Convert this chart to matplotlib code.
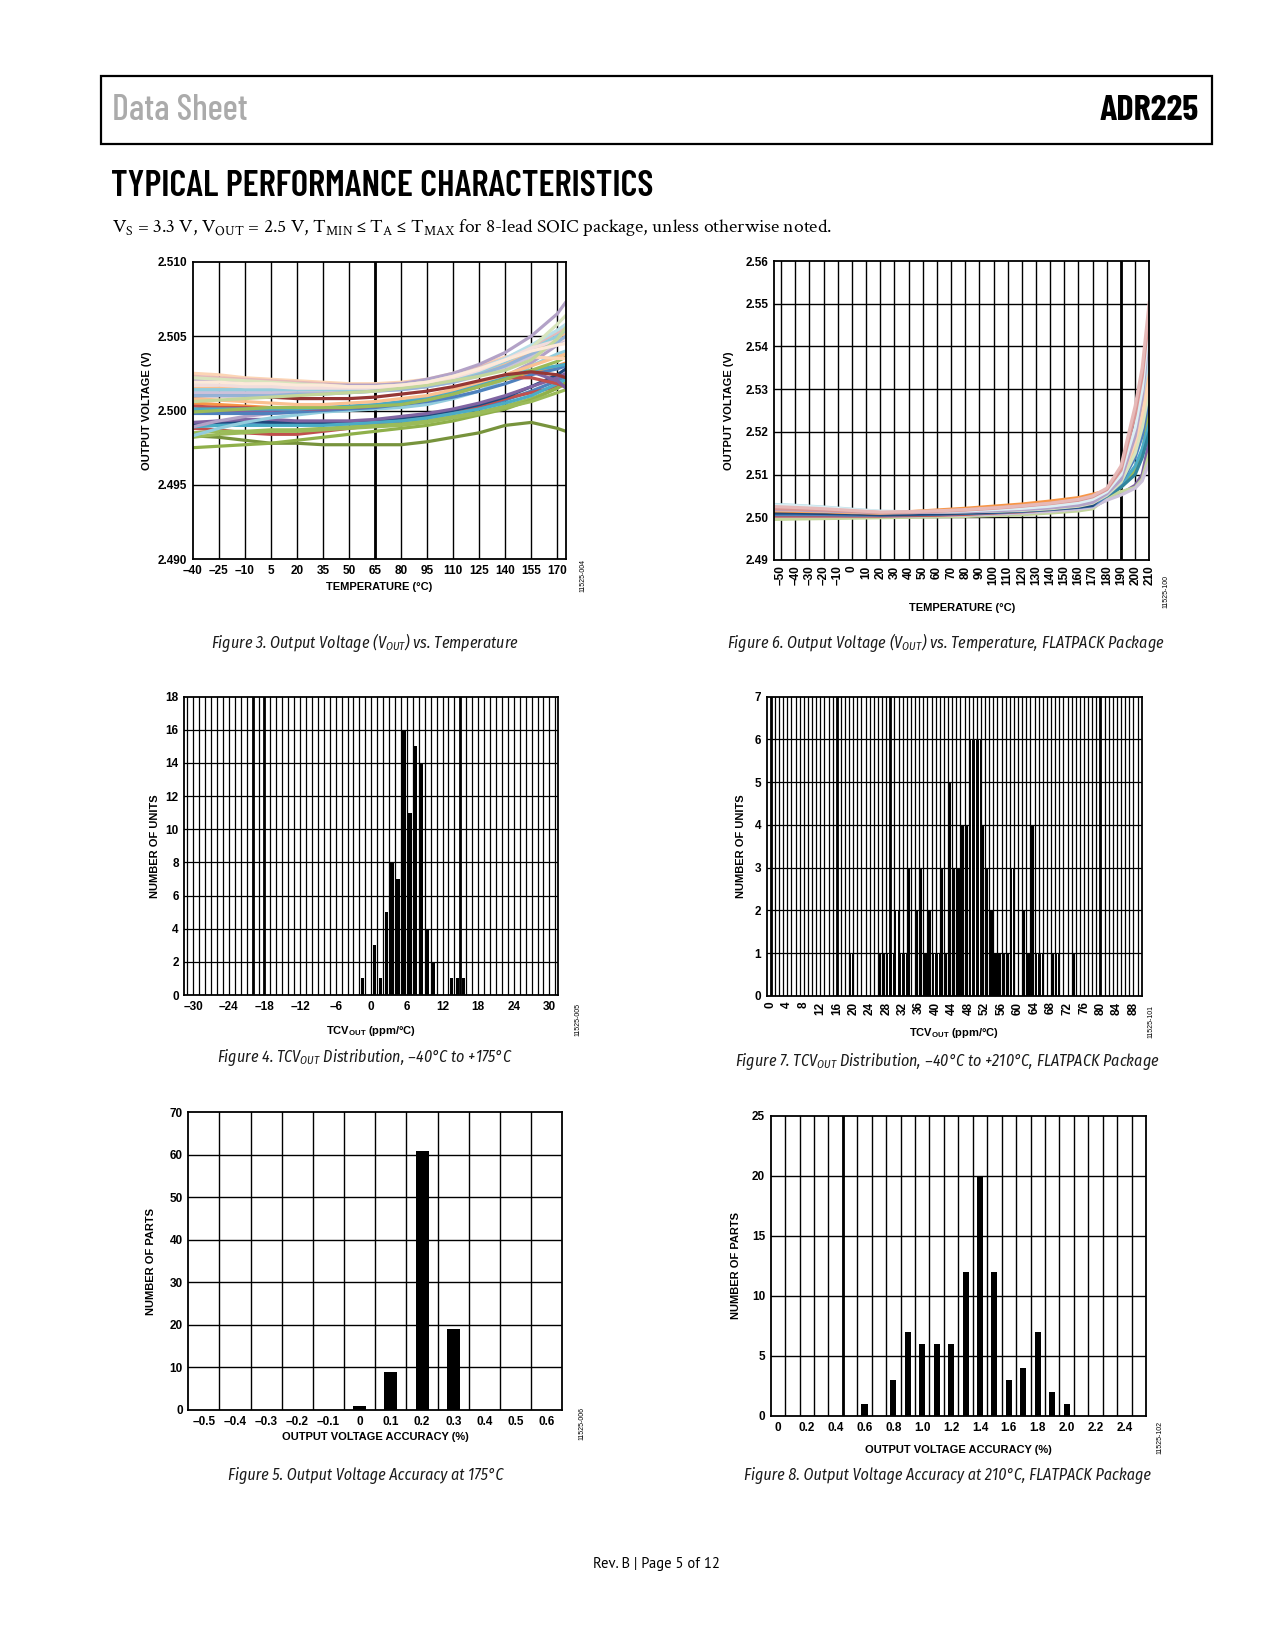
import matplotlib
matplotlib.use('Agg')
import matplotlib.pyplot as plt
from matplotlib.patches import Rectangle

W, H = 1275, 1650

plt.rcParams['font.family'] = ['Liberation Sans', 'DejaVu Sans']
plt.rcParams['axes.unicode_minus'] = False

# ---------------- data ----------------
# Figure 3: output voltage vs temperature (SOIC)
temp3 = [-40, -25, -10, 5, 20, 35, 50, 65, 80, 95, 110, 125, 140, 155, 170, 175]
vout3_low = [
    [2.4990, 2.4991, 2.4991, 2.4991, 2.4991, 2.4991, 2.4991, 2.4991, 2.4993, 2.4995, 2.4998, 2.5002, 2.5007, 2.5013, 2.5020, 2.5023],
    [2.4988, 2.4987, 2.4985, 2.4984, 2.4984, 2.4986, 2.4988, 2.4990, 2.4993, 2.4996, 2.4999, 2.5003, 2.5008, 2.5012, 2.5016, 2.5017],
    [2.4985, 2.4986, 2.4986, 2.4987, 2.4987, 2.4988, 2.4989, 2.4990, 2.4991, 2.4993, 2.4996, 2.4999, 2.5003, 2.5008, 2.5015, 2.5018],
    [2.4983, 2.4982, 2.4980, 2.4978, 2.4978, 2.4977, 2.4977, 2.4977, 2.4977, 2.4979, 2.4982, 2.4985, 2.4990, 2.4992, 2.4988, 2.4986],
    [2.4975, 2.4976, 2.4977, 2.4978, 2.4980, 2.4982, 2.4984, 2.4986, 2.4988, 2.4990, 2.4993, 2.4997, 2.5001, 2.5007, 2.5015, 2.5019],
    [2.4991, 2.4992, 2.4993, 2.4992, 2.4992, 2.4992, 2.4992, 2.4993, 2.4995, 2.4997, 2.5000, 2.5004, 2.5009, 2.5016, 2.5024, 2.5028],
    [2.4989, 2.4990, 2.4990, 2.4990, 2.4990, 2.4990, 2.4991, 2.4992, 2.4993, 2.4995, 2.4998, 2.5001, 2.5005, 2.5010, 2.5018, 2.5021],
    [2.4992, 2.4993, 2.4994, 2.4994, 2.4993, 2.4993, 2.4993, 2.4994, 2.4996, 2.4998, 2.5001, 2.5005, 2.5010, 2.5016, 2.5022, 2.5025],
    [2.4982, 2.4984, 2.4985, 2.4986, 2.4986, 2.4987, 2.4988, 2.4989, 2.4990, 2.4992, 2.4995, 2.4998, 2.5002, 2.5006, 2.5012, 2.5014],
]
vout3_mid = [
    [2.4989, 2.4993, 2.4996, 2.4998, 2.4999, 2.5000, 2.5001, 2.5002, 2.5004, 2.5007, 2.5011, 2.5016, 2.5023, 2.5032, 2.5044, 2.5049],
    [2.4983, 2.4988, 2.4992, 2.4995, 2.4997, 2.4999, 2.5000, 2.5001, 2.5002, 2.5004, 2.5008, 2.5013, 2.5021, 2.5030, 2.5038, 2.5040],
    [2.5005, 2.5004, 2.5003, 2.5002, 2.5002, 2.5002, 2.5002, 2.5003, 2.5005, 2.5008, 2.5012, 2.5016, 2.5021, 2.5025, 2.5030, 2.5032],
    [2.4998, 2.4998, 2.4998, 2.4998, 2.4999, 2.5000, 2.5001, 2.5002, 2.5004, 2.5006, 2.5009, 2.5013, 2.5018, 2.5024, 2.5028, 2.5030],
    [2.5003, 2.5002, 2.5002, 2.5001, 2.5001, 2.5001, 2.5002, 2.5003, 2.5005, 2.5008, 2.5012, 2.5017, 2.5022, 2.5022, 2.5018, 2.5016],
    [2.5000, 2.5000, 2.5000, 2.5000, 2.5001, 2.5001, 2.5002, 2.5003, 2.5005, 2.5008, 2.5012, 2.5017, 2.5023, 2.5026, 2.5020, 2.5015],
    [2.5001, 2.5001, 2.5001, 2.5001, 2.5001, 2.5002, 2.5003, 2.5004, 2.5006, 2.5009, 2.5013, 2.5018, 2.5023, 2.5027, 2.5030, 2.5031],
    [2.4999, 2.5000, 2.5001, 2.5002, 2.5002, 2.5002, 2.5002, 2.5003, 2.5004, 2.5007, 2.5011, 2.5016, 2.5021, 2.5027, 2.5033, 2.5036],
    [2.5008, 2.5007, 2.5006, 2.5005, 2.5004, 2.5004, 2.5005, 2.5006, 2.5008, 2.5010, 2.5014, 2.5019, 2.5024, 2.5030, 2.5036, 2.5038],
    [2.5010, 2.5010, 2.5010, 2.5009, 2.5008, 2.5008, 2.5008, 2.5009, 2.5011, 2.5013, 2.5016, 2.5020, 2.5024, 2.5026, 2.5024, 2.5022],
]
vout3_high = [
    [2.5025, 2.5024, 2.5022, 2.5021, 2.5020, 2.5019, 2.5018, 2.5018, 2.5019, 2.5021, 2.5025, 2.5030, 2.5036, 2.5036, 2.5035, 2.5035],
    [2.5023, 2.5022, 2.5021, 2.5020, 2.5019, 2.5018, 2.5017, 2.5017, 2.5018, 2.5020, 2.5024, 2.5029, 2.5035, 2.5043, 2.5052, 2.5056],
    [2.5020, 2.5020, 2.5019, 2.5018, 2.5018, 2.5017, 2.5017, 2.5017, 2.5018, 2.5021, 2.5025, 2.5031, 2.5039, 2.5050, 2.5065, 2.5073],
    [2.5018, 2.5017, 2.5017, 2.5016, 2.5016, 2.5016, 2.5016, 2.5016, 2.5017, 2.5019, 2.5023, 2.5028, 2.5035, 2.5044, 2.5054, 2.5058],
    [2.5022, 2.5021, 2.5020, 2.5019, 2.5018, 2.5017, 2.5016, 2.5016, 2.5017, 2.5019, 2.5022, 2.5027, 2.5033, 2.5042, 2.5058, 2.5064],
    [2.5015, 2.5015, 2.5015, 2.5014, 2.5014, 2.5014, 2.5014, 2.5014, 2.5015, 2.5017, 2.5020, 2.5025, 2.5031, 2.5039, 2.5049, 2.5052],
    [2.5012, 2.5012, 2.5012, 2.5012, 2.5012, 2.5012, 2.5012, 2.5013, 2.5014, 2.5016, 2.5019, 2.5023, 2.5029, 2.5036, 2.5045, 2.5048],
    [2.5014, 2.5014, 2.5014, 2.5014, 2.5014, 2.5014, 2.5014, 2.5014, 2.5015, 2.5017, 2.5021, 2.5026, 2.5033, 2.5041, 2.5050, 2.5054],
    [2.5017, 2.5017, 2.5016, 2.5016, 2.5015, 2.5015, 2.5015, 2.5015, 2.5016, 2.5018, 2.5022, 2.5027, 2.5034, 2.5042, 2.5047, 2.5048],
    [2.5010, 2.5010, 2.5010, 2.5010, 2.5011, 2.5011, 2.5012, 2.5013, 2.5014, 2.5016, 2.5019, 2.5024, 2.5030, 2.5038, 2.5046, 2.5050],
    [2.5006, 2.5007, 2.5008, 2.5009, 2.5010, 2.5011, 2.5012, 2.5013, 2.5015, 2.5017, 2.5020, 2.5023, 2.5027, 2.5034, 2.5048, 2.5056],
    [2.5019, 2.5019, 2.5018, 2.5018, 2.5017, 2.5017, 2.5016, 2.5016, 2.5017, 2.5019, 2.5023, 2.5028, 2.5034, 2.5040, 2.5044, 2.5045],
]
colors3_low = ['#4F81BD', '#C0504D', '#9BBB59', '#77933C', '#8FB04A', '#1F497D', '#4BACC6', '#8064A2', '#9BBB59']
colors3_mid = ['#B3A2C7', '#93CDDD', '#F79646', '#4F81BD', '#C0504D', '#8064A2', '#4BACC6', '#9BBB59', '#FAC090', '#953735']
colors3_high = ['#FCD5B5', '#E6B9B8', '#B3A2C7', '#B7DEE8', '#D7E4BD', '#FAC090', '#CCC1DA', '#93CDDD',
                '#F2DCDB', '#95B3D7', '#C3D69B', '#FDE9D9']

# Figure 6: output voltage vs temperature (FLATPACK)
temp6 = [-55, -40, -20, 0, 20, 40, 60, 80, 100, 120, 140, 160, 170, 180, 190, 200, 205, 210]
vout6 = [
    [2.5000, 2.5000, 2.5000, 2.5001, 2.5001, 2.5002, 2.5003, 2.5004, 2.5006, 2.5009, 2.5013, 2.5018, 2.5023, 2.5042, 2.5055, 2.5075, 2.5100, 2.5180],
    [2.4995, 2.4996, 2.4997, 2.4998, 2.4999, 2.5000, 2.5001, 2.5002, 2.5004, 2.5006, 2.5010, 2.5015, 2.5020, 2.5045, 2.5060, 2.5070, 2.5090, 2.5150],
    [2.5002, 2.5002, 2.5002, 2.5002, 2.5002, 2.5003, 2.5004, 2.5005, 2.5007, 2.5010, 2.5014, 2.5019, 2.5024, 2.5040, 2.5052, 2.5068, 2.5085, 2.5130],
    [2.5005, 2.5005, 2.5005, 2.5004, 2.5004, 2.5005, 2.5006, 2.5008, 2.5011, 2.5015, 2.5021, 2.5029, 2.5036, 2.5050, 2.5070, 2.5110, 2.5150, 2.5250],
    [2.5008, 2.5008, 2.5007, 2.5006, 2.5005, 2.5006, 2.5007, 2.5009, 2.5012, 2.5016, 2.5021, 2.5028, 2.5034, 2.5052, 2.5075, 2.5120, 2.5160, 2.5220],
    [2.5012, 2.5011, 2.5010, 2.5009, 2.5008, 2.5009, 2.5010, 2.5012, 2.5014, 2.5018, 2.5023, 2.5030, 2.5037, 2.5050, 2.5070, 2.5100, 2.5140, 2.5200],
    [2.5003, 2.5003, 2.5003, 2.5003, 2.5003, 2.5004, 2.5005, 2.5007, 2.5010, 2.5013, 2.5018, 2.5024, 2.5030, 2.5052, 2.5085, 2.5160, 2.5220, 2.5300],
    [2.5006, 2.5006, 2.5006, 2.5005, 2.5005, 2.5006, 2.5007, 2.5009, 2.5011, 2.5014, 2.5018, 2.5023, 2.5027, 2.5050, 2.5080, 2.5140, 2.5190, 2.5280],
    [2.5010, 2.5010, 2.5009, 2.5008, 2.5006, 2.5007, 2.5008, 2.5010, 2.5012, 2.5015, 2.5019, 2.5024, 2.5028, 2.5060, 2.5105, 2.5220, 2.5300, 2.5420],
    [2.5015, 2.5014, 2.5013, 2.5011, 2.5010, 2.5013, 2.5017, 2.5021, 2.5026, 2.5031, 2.5038, 2.5046, 2.5054, 2.5062, 2.5090, 2.5180, 2.5260, 2.5400],
    [2.5017, 2.5016, 2.5014, 2.5012, 2.5010, 2.5011, 2.5012, 2.5014, 2.5017, 2.5021, 2.5026, 2.5033, 2.5040, 2.5057, 2.5085, 2.5165, 2.5230, 2.5350],
    [2.5026, 2.5024, 2.5021, 2.5017, 2.5013, 2.5012, 2.5012, 2.5013, 2.5014, 2.5016, 2.5020, 2.5026, 2.5033, 2.5052, 2.5082, 2.5150, 2.5210, 2.5300],
    [2.5022, 2.5021, 2.5019, 2.5016, 2.5013, 2.5013, 2.5013, 2.5015, 2.5017, 2.5020, 2.5025, 2.5032, 2.5040, 2.5058, 2.5090, 2.5175, 2.5240, 2.5320],
    [2.5030, 2.5028, 2.5024, 2.5019, 2.5014, 2.5013, 2.5013, 2.5014, 2.5016, 2.5019, 2.5024, 2.5031, 2.5038, 2.5058, 2.5095, 2.5200, 2.5280, 2.5380],
    [2.5018, 2.5017, 2.5015, 2.5013, 2.5011, 2.5011, 2.5012, 2.5013, 2.5015, 2.5018, 2.5022, 2.5028, 2.5035, 2.5055, 2.5088, 2.5190, 2.5280, 2.5440],
    [2.5028, 2.5027, 2.5023, 2.5018, 2.5014, 2.5013, 2.5014, 2.5015, 2.5018, 2.5021, 2.5026, 2.5034, 2.5042, 2.5060, 2.5100, 2.5210, 2.5300, 2.5460],
    [2.5020, 2.5019, 2.5017, 2.5014, 2.5011, 2.5012, 2.5014, 2.5017, 2.5021, 2.5026, 2.5032, 2.5040, 2.5048, 2.5065, 2.5110, 2.5240, 2.5330, 2.5480],
    [2.5025, 2.5023, 2.5020, 2.5016, 2.5012, 2.5013, 2.5015, 2.5018, 2.5022, 2.5027, 2.5033, 2.5042, 2.5050, 2.5068, 2.5120, 2.5260, 2.5350, 2.5505],
]
colors6 = ['#8064A2', '#C3D69B', '#CCC1DA', '#9BBB59', '#4BACC6', '#31859C', '#C0504D', '#4F81BD', '#1F497D',
           '#F79646', '#FAC090', '#D7E4BD', '#FCD5B5', '#B7DEE8', '#B3A2C7', '#DBEEF4', '#D99694', '#E6B9B8']

# Figure 4: TCVout distribution, -40C to +175C (bin centres, ppm/C)
tc4_bins = [-1.5, 0.5, 1.5, 2.5, 3.5, 4.5, 5.5, 6.5, 7.5, 8.5, 9.5, 10.5, 13.5, 14.5, 15.5]
tc4_units = [1, 3, 1, 5, 8, 7, 16, 11, 15, 14, 4, 2, 1, 1, 1]

# Figure 7: TCVout distribution, FLATPACK (solid bars and hairline bars)
tc7_bins = [26.5, 27.5, 33.5, 35.5, 36.5, 37.5, 38.5, 41.5, 42.5, 43.5, 44.5, 45.5, 46.5, 47.5,
            51.5, 52.5, 53.5, 54.5, 55.5, 56.5, 57.5, 61.5, 62.5, 63.5, 68.5, 73.5]
tc7_units = [1, 1, 3, 2, 3, 1, 2, 3, 1, 5, 3, 3, 4, 4,
             4, 3, 2, 1, 1, 1, 1, 2, 1, 4, 1, 1]
tc7_thin_bins = [19.5, 28.5, 29.5, 30.5, 31.5, 32.5, 39.5, 40.5, 48.5, 49.5, 50.5, 58.5, 64.5, 65.5, 69.5]
tc7_thin_units = [1, 1, 1, 2, 1, 1, 1, 1, 6, 6, 6, 3, 1, 1, 1]

# Figure 5: output voltage accuracy at 175C
acc5 = [0.0, 0.1, 0.2, 0.3]
parts5 = [1, 9, 61, 19]

# Figure 8: output voltage accuracy at 210C, FLATPACK
acc8 = [0.6, 0.8, 0.9, 1.0, 1.1, 1.2, 1.3, 1.4, 1.5, 1.6, 1.7, 1.8, 1.9, 2.0]
parts8 = [1, 3, 7, 6, 6, 6, 12, 20, 12, 3, 4, 7, 2, 1]

# ---------------- layout helpers ----------------
fig = plt.figure(figsize=(W / 100, H / 100), dpi=100)

TICK_FS = 8.5
LABEL_FS = 8
HEAD_FAMILY = ['Barlow Condensed', 'Liberation Sans']
CAP_FAMILY = ['Fira Sans Condensed', 'Liberation Sans']
CAP_FS = 11.5


def add_box(l, t, r, b):
    return fig.add_axes([l / W, 1 - b / H, (r - l) / W, (b - t) / H])


def dash(v, fmt='{:g}'):
    return fmt.format(v).replace('-', '\u2013')


def style(ax):
    for s in ax.spines.values():
        s.set_linewidth(1.3)
        s.set_color('black')
    ax.tick_params(which='both', length=0, labelsize=TICK_FS, pad=4)
    for lab in ax.get_xticklabels() + ax.get_yticklabels():
        lab.set_fontweight('bold')
    ax.set_axisbelow(True)


def ftext(x, y, s, **kw):
    fig.text(x / W, 1 - y / H, s, **kw)


def caption(x, y, s):
    ftext(x, y, s, fontsize=CAP_FS, style='italic', weight='normal', family=CAP_FAMILY,
          color='#1A1A1A', va='center', ha='center')


def vgrid(ax, xs, lw=1.0):
    for x in xs:
        ax.axvline(x, color='black', lw=lw, zorder=0.5)


def hgrid(ax, ys, lw=1.0):
    for y in ys:
        ax.axhline(y, color='black', lw=lw, zorder=0.5)


# ---------------- page header ----------------
fig.add_artist(Rectangle((101 / W, 1 - 144 / H), (1212 - 101) / W, (144 - 76) / H,
                         transform=fig.transFigure, fill=False, lw=1.6, ec='black'))
ftext(112, 111, 'Data Sheet', fontsize=26, color='#ABABAB', weight='medium',
      family=HEAD_FAMILY, va='center', ha='left')
ftext(1199, 111, 'ADR225', fontsize=26, color='black', weight='bold',
      family=HEAD_FAMILY, va='center', ha='right')
ftext(111, 186, 'TYPICAL PERFORMANCE CHARACTERISTICS', fontsize=26.5, weight='semibold',
      family=HEAD_FAMILY, va='center', ha='left')
ftext(112, 227, r'V$_{\mathregular{S}}$ = 3.3 V, V$_{\mathregular{OUT}}$ = 2.5 V, '
      r'T$_{\mathregular{MIN}}$ ≤ T$_{\mathregular{A}}$ ≤ T$_{\mathregular{MAX}}$ '
      'for 8-lead SOIC package, unless otherwise noted.',
      fontsize=14, family=['Crimson Text', 'Liberation Serif'], va='center', ha='left')
ftext(656, 1564, 'Rev. B | Page 5 of 12', fontsize=10.5, family=['PT Sans', 'Liberation Sans'],
      va='center', ha='center')

# ---------------- Figure 3 ----------------
ax = add_box(192.7, 261.7, 566, 559.3)
for curves, cols in [(vout3_low, colors3_low), (vout3_mid, colors3_mid), (vout3_high, colors3_high)]:
    for v, c in zip(curves, cols):
        ax.plot(temp3, v, color=c, lw=2.3, solid_capstyle='round', solid_joinstyle='round')
ax.set_xlim(-40, 175)
ax.set_ylim(2.490, 2.510)
xt = list(range(-40, 171, 15))
ax.set_xticks(xt)
ax.set_xticklabels([dash(v) for v in xt])
yt = [2.490, 2.495, 2.500, 2.505, 2.510]
ax.set_yticks(yt)
ax.set_yticklabels(['{:.3f}'.format(v) for v in yt])
vgrid(ax, xt[1:])
vgrid(ax, [65], lw=2.0)
hgrid(ax, yt[1:-1])
style(ax)
ax.set_xlabel('TEMPERATURE (°C)', fontsize=LABEL_FS, weight='bold', labelpad=4)
ax.set_ylabel('OUTPUT VOLTAGE (V)', fontsize=LABEL_FS, weight='bold', labelpad=4)
ftext(583, 576, '11525-004', fontsize=5, rotation=90, va='center', ha='center')
caption(365, 643, r'Figure 3. Output Voltage (V$_{\mathregular{OUT}}$) vs. Temperature')

# ---------------- Figure 6 ----------------
ax = add_box(774, 261, 1149.3, 560)
for v, c in zip(vout6, colors6):
    ax.plot(temp6, v, color=c, lw=2.3, solid_capstyle='round', solid_joinstyle='round')
ax.set_xlim(-55, 210)
ax.set_ylim(2.49, 2.56)
xt = list(range(-50, 211, 10))
ax.set_xticks(xt)
ax.set_xticklabels([dash(v) for v in xt], rotation=90)
yt = [2.49, 2.50, 2.51, 2.52, 2.53, 2.54, 2.55, 2.56]
ax.set_yticks(yt)
ax.set_yticklabels(['{:.2f}'.format(v) for v in yt])
vgrid(ax, xt[:-1])
vgrid(ax, [190], lw=2.0)
hgrid(ax, yt[1:-1])
style(ax)
ax.set_xlabel('TEMPERATURE (°C)', fontsize=LABEL_FS, weight='bold', labelpad=13)
ax.set_ylabel('OUTPUT VOLTAGE (V)', fontsize=LABEL_FS, weight='bold', labelpad=8)
ftext(1166, 591, '11525-100', fontsize=5, rotation=90, va='center', ha='center')
caption(946, 643, r'Figure 6. Output Voltage (V$_{\mathregular{OUT}}$) vs. Temperature, FLATPACK Package')

# ---------------- Figure 4 ----------------
ax = add_box(184.3, 696.7, 558.3, 995)
ax.bar(tc4_bins, tc4_units, width=0.55, color='black', zorder=2)
ax.set_xlim(-31.5, 31.5)
ax.set_ylim(0, 18)
xt = list(range(-30, 31, 6))
ax.set_xticks(xt)
ax.set_xticklabels([dash(v) for v in xt])
yt = list(range(0, 19, 2))
ax.set_yticks(yt)
vgrid(ax, range(-31, 32), lw=0.9)
vgrid(ax, [-20, -18, 15], lw=2.0)
hgrid(ax, yt[1:-1], lw=0.9)
style(ax)
ax.set_xlabel(r'TCV$_{\mathregular{OUT}}$ (ppm/°C)', fontsize=LABEL_FS, weight='bold', labelpad=8)
ax.set_ylabel('NUMBER OF UNITS', fontsize=LABEL_FS, weight='bold', labelpad=4)
ftext(578, 1020, '11525-005', fontsize=5, rotation=90, va='center', ha='center')
caption(365, 1057, 'Figure 4. TCV$_{\\mathregular{OUT}}$ Distribution, \u201340°C to +175°C')

# ---------------- Figure 7 ----------------
ax = add_box(766.7, 696.7, 1141.7, 996)
ax.bar(tc7_bins, tc7_units, width=0.6, color='black', zorder=2)
ax.bar(tc7_thin_bins, tc7_thin_units, width=0.5, facecolor='white', edgecolor='black', lw=0.7, zorder=2)
ax.set_xlim(-1, 90)
ax.set_ylim(0, 7)
xt = list(range(0, 89, 4))
ax.set_xticks(xt)
ax.set_xticklabels([dash(v) for v in xt], rotation=90)
yt = list(range(0, 8))
ax.set_yticks(yt)
vgrid(ax, range(0, 90), lw=0.9)
vgrid(ax, [0, 16, 29, 80], lw=2.0)
hgrid(ax, yt[1:-1], lw=0.9)
style(ax)
ax.set_xlabel(r'TCV$_{\mathregular{OUT}}$ (ppm/°C)', fontsize=LABEL_FS, weight='bold', labelpad=8)
ax.set_ylabel('NUMBER OF UNITS', fontsize=LABEL_FS, weight='bold', labelpad=6)
ftext(1151, 1022, '11525-101', fontsize=5, rotation=90, va='center', ha='center')
caption(947, 1061, 'Figure 7. TCV$_{\\mathregular{OUT}}$ Distribution, \u201340°C to +210°C, FLATPACK Package')

# ---------------- Figure 5 ----------------
ax = add_box(188.3, 1112.3, 562.3, 1410)
ax.bar(acc5, parts5, width=0.042, color='black', zorder=2)
ax.set_xlim(-0.55, 0.65)
ax.set_ylim(0, 70)
xt = [-0.5, -0.4, -0.3, -0.2, -0.1, 0.0, 0.1, 0.2, 0.3, 0.4, 0.5, 0.6]
ax.set_xticks(xt)
ax.set_xticklabels([dash(round(v, 1)) for v in xt])
yt = list(range(0, 71, 10))
ax.set_yticks(yt)
vgrid(ax, [round(-0.45 + 0.1 * i, 2) for i in range(11)])
hgrid(ax, yt[1:-1])
style(ax)
ax.set_xlabel('OUTPUT VOLTAGE ACCURACY (%)', fontsize=LABEL_FS, weight='bold', labelpad=3)
ax.set_ylabel('NUMBER OF PARTS', fontsize=LABEL_FS, weight='bold', labelpad=10)
ftext(582, 1424, '11525-006', fontsize=5, rotation=90, va='center', ha='center')
caption(366, 1475, 'Figure 5. Output Voltage Accuracy at 175°C')

# ---------------- Figure 8 ----------------
ax = add_box(770.7, 1115.7, 1146, 1416)
ax.bar(acc8, parts8, width=0.042, color='black', zorder=2)
ax.set_xlim(-0.05, 2.55)
ax.set_ylim(0, 25)
xt = [0.0, 0.2, 0.4, 0.6, 0.8, 1.0, 1.2, 1.4, 1.6, 1.8, 2.0, 2.2, 2.4]
ax.set_xticks(xt)
ax.set_xticklabels(['0'] + ['{:.1f}'.format(v) for v in xt[1:]])
yt = list(range(0, 26, 5))
ax.set_yticks(yt)
vgrid(ax, [round(0.05 + 0.1 * i, 2) for i in range(25)])
vgrid(ax, [0.45], lw=2.0)
hgrid(ax, yt[1:-1])
style(ax)
ax.set_xlabel('OUTPUT VOLTAGE ACCURACY (%)', fontsize=LABEL_FS, weight='bold', labelpad=8)
ax.set_ylabel('NUMBER OF PARTS', fontsize=LABEL_FS, weight='bold', labelpad=8)
ftext(1160, 1437, '11525-102', fontsize=5, rotation=90, va='center', ha='center')
caption(947, 1475, 'Figure 8. Output Voltage Accuracy at 210°C, FLATPACK Package')

fig.savefig('out.png', dpi=100)
